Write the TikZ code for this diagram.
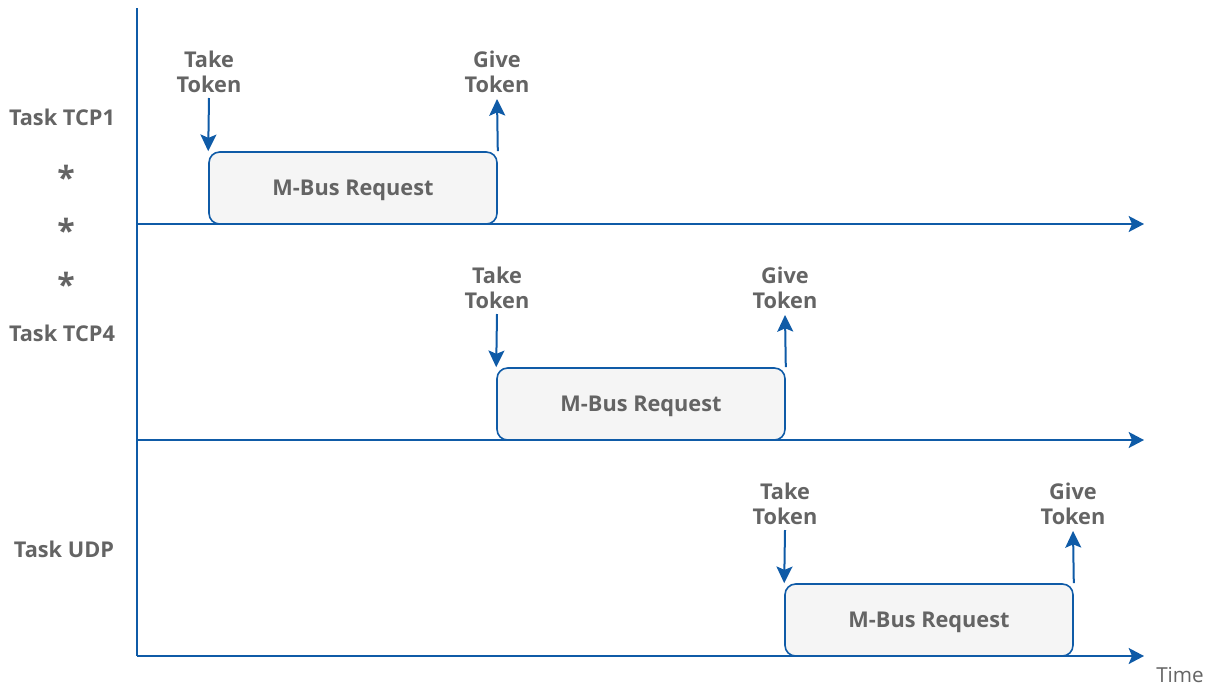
\documentclass[tikz,border=0pt]{standalone}
\usepackage{fontspec}
\setmainfont{Open Sans}
\usetikzlibrary{arrows.meta}
\definecolor{axisblue}{HTML}{0F5BA7}
\definecolor{txtgray}{HTML}{646464}
\definecolor{boxfill}{HTML}{F5F5F5}
\tikzset{
  axisline/.style={draw=axisblue, line width=1.5pt},
  timeaxis/.style={axisline, -{Stealth[length=11.5pt,width=12pt,inset=2.5pt]}},
  tokarrow/.style={draw=axisblue, line width=1.5pt, -{Stealth[length=12.5pt,width=12pt,inset=2.5pt]}},
  reqbox/.style={draw=axisblue, line width=1.2pt, fill=boxfill, rounded corners=8pt, minimum width=216pt, minimum height=54pt, inner sep=0pt, text height=11.8pt, text depth=0pt, text=txtgray, font=\fontsize{16.3}{19}\selectfont\bfseries},
  lbl/.style={text=txtgray, font=\fontsize{16.3}{18.8}\selectfont\bfseries, align=center, inner sep=0pt},
  starlbl/.style={text=txtgray, font=\fontsize{24}{24}\selectfont\bfseries, inner sep=0pt},
  timelbl/.style={text=txtgray, font=\fontsize{15.5}{18}\selectfont, inner sep=0pt},
}
\begin{document}
\begin{tikzpicture}[x=0.75pt,y=-0.75pt]
\useasboundingbox (0,0) rectangle (1213,686);
% vertical axis
\coordinate (vtop) at (137,8);
\coordinate (vbot) at (137,656);
\draw[axisline] (vtop) -- (vbot);
% boxes
\node[reqbox] (b1) at (353,188) {M-Bus Request};
\node[reqbox] (b2) at (641,404) {M-Bus Request};
\node[reqbox] (b3) at (929,620) {M-Bus Request};
% time axes
\coordinate (a1s) at (137,224); \coordinate (a1e) at (1144,224);
\coordinate (a2s) at (137,440); \coordinate (a2e) at (1144,440);
\coordinate (a3s) at (137,656); \coordinate (a3e) at (1144,656);
\draw[timeaxis] (a1s) -- (a1e);
\draw[timeaxis] (a2s) -- (a2e);
\draw[timeaxis] (a3s) -- (a3e);
% token labels and arrows
\node[lbl] (t1) at (209,72) {Take\\Token};
\node[lbl] (g1) at (497,72) {Give\\Token};
\node[lbl] (t2) at (497,288) {Take\\Token};
\node[lbl] (g2) at (785,288) {Give\\Token};
\node[lbl] (t3) at (785,504) {Take\\Token};
\node[lbl] (g3) at (1073,504) {Give\\Token};
\coordinate (t1s) at (209,98);
\coordinate (t2s) at (497,314);
\coordinate (t3s) at (785,530);
\coordinate (g1e) at (497,99);
\coordinate (g2e) at (785,315);
\coordinate (g3e) at (1073,531);
\draw[tokarrow] (t1s) -- (b1.north west);
\draw[tokarrow] (b1.north east) -- (g1e);
\draw[tokarrow] (t2s) -- (b2.north west);
\draw[tokarrow] (b2.north east) -- (g2e);
\draw[tokarrow] (t3s) -- (b3.north west);
\draw[tokarrow] (b3.north east) -- (g3e);
% task labels
\node[lbl] (tcp1) at (62,117) {Task TCP1};
\node[starlbl] (s1) at (66,177) {*};
\node[starlbl] (s2) at (66,230) {*};
\node[starlbl] (s3) at (66,284) {*};
\node[lbl] (tcp4) at (62,333) {Task TCP4};
\node[lbl] (udp) at (64,549) {Task UDP};
\node[timelbl] (time) at (1180,675) {Time};
\end{tikzpicture}
\end{document}
